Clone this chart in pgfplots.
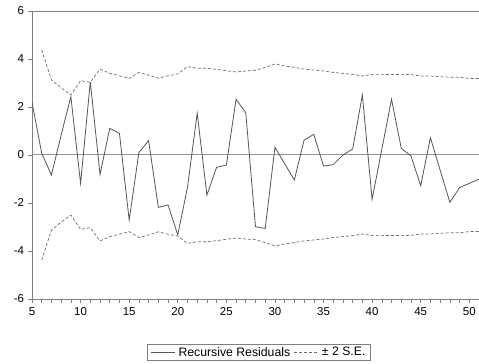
\documentclass[border=0pt]{standalone}
\usepackage{pgfplots}
\pgfplotsset{compat=1.18}
\usepackage{pgfplotstable}
\usepackage{fontspec}
\setmainfont{Liberation Sans}
\definecolor{axgray}{RGB}{128,128,128}
\definecolor{resgray}{RGB}{85,85,85}
\definecolor{segray}{RGB}{110,110,110}
\definecolor{zerogray}{RGB}{150,150,150}

\pgfplotstableread{
x res
5 2.2
6 0.07
7 -0.83
8 0.83
9 2.43
10 -1.18
11 3.05
12 -0.81
13 1.11
14 0.9
15 -2.71
16 0.1
17 0.6
18 -2.18
19 -2.08
20 -3.33
21 -1.35
22 1.74
23 -1.67
24 -0.51
25 -0.42
26 2.32
27 1.76
28 -2.99
29 -3.06
30 0.32
31 -0.36
32 -1.04
33 0.62
34 0.86
35 -0.46
36 -0.4
37 0.0
38 0.25
39 2.5
40 -1.85
41 0.24
42 2.32
43 0.28
44 -0.04
45 -1.28
46 0.72
47 -0.63
48 -1.97
49 -1.36
50 -1.18
51 -1.01
}\restable

\pgfplotstableread{
x up lo
6 4.38 -4.38
7 3.13 -3.13
8 2.8 -2.8
9 2.5 -2.5
10 3.1 -3.1
11 3.03 -3.03
12 3.58 -3.58
13 3.4 -3.4
14 3.3 -3.3
15 3.19 -3.19
16 3.44 -3.44
17 3.33 -3.33
18 3.2 -3.2
19 3.3 -3.3
20 3.38 -3.38
21 3.68 -3.68
22 3.62 -3.62
23 3.61 -3.61
24 3.57 -3.57
25 3.51 -3.51
26 3.46 -3.46
27 3.5 -3.5
28 3.53 -3.53
29 3.65 -3.65
30 3.79 -3.79
31 3.71 -3.71
32 3.65 -3.65
33 3.58 -3.58
34 3.54 -3.54
35 3.5 -3.5
36 3.44 -3.44
37 3.4 -3.4
38 3.36 -3.36
39 3.29 -3.29
40 3.36 -3.36
41 3.36 -3.36
42 3.35 -3.35
43 3.36 -3.36
44 3.35 -3.35
45 3.29 -3.29
46 3.29 -3.29
47 3.26 -3.26
48 3.24 -3.24
49 3.24 -3.24
50 3.19 -3.19
51 3.19 -3.19
}\setable

\begin{document}
\begin{tikzpicture}
\begin{axis}[
  at={(0,0)}, anchor=south west,
  width=447bp, height=288bp, scale only axis,
  xmin=5, xmax=51, ymin=-6, ymax=6,
  xtick={5,10,...,50}, minor xtick={5,...,51},
  ytick={-6,-4,...,6},
  xtick pos=bottom, ytick pos=left,
  tick align=outside,
  major tick length=4bp, minor tick length=3.5bp,
  axis line style={axgray, line width=0.8bp},
  every tick/.style={axgray, line width=0.6bp},
  every minor tick/.style={axgray, line width=0.6bp},
  tick label style={font=\fontsize{11.5}{13}\selectfont, text=black},
  /pgf/number format/assume math mode=true,
  xticklabel style={yshift=-1bp},
  yticklabel style={xshift=-0.5bp},
  legend image code/.code={\draw[#1] (0bp,0bp) -- (24bp,0bp);},
  legend style={at={(0.508,-0.156)}, anchor=north, legend columns=2,
    draw=axgray, line width=0.6bp, font=\fontsize{12.3}{14}\selectfont,
    inner xsep=2.5bp, inner ysep=1bp,
    nodes={inner xsep=2.5bp},
    /tikz/every odd column/.append style={column sep=1bp},
    /tikz/every even column/.append style={column sep=1bp}},
  legend cell align=left,
]
\addplot[zerogray, line width=1bp, forget plot] coordinates {(5,0) (51,0)};
\addplot[resgray, line width=0.8bp] table[x=x, y=res] {\restable};
\addlegendentry{Recursive Residuals}
\addplot[segray, line width=0.7bp, dash pattern=on 3bp off 2bp] table[x=x, y=up] {\setable};
\addlegendentry{± 2 S.E.}
\addplot[segray, line width=0.7bp, dash pattern=on 3bp off 2bp, forget plot] table[x=x, y=lo] {\setable};
\end{axis}
\pgfresetboundingbox
\path (-32bp,-65bp) rectangle (447bp,299bp);
\end{tikzpicture}
\end{document}
